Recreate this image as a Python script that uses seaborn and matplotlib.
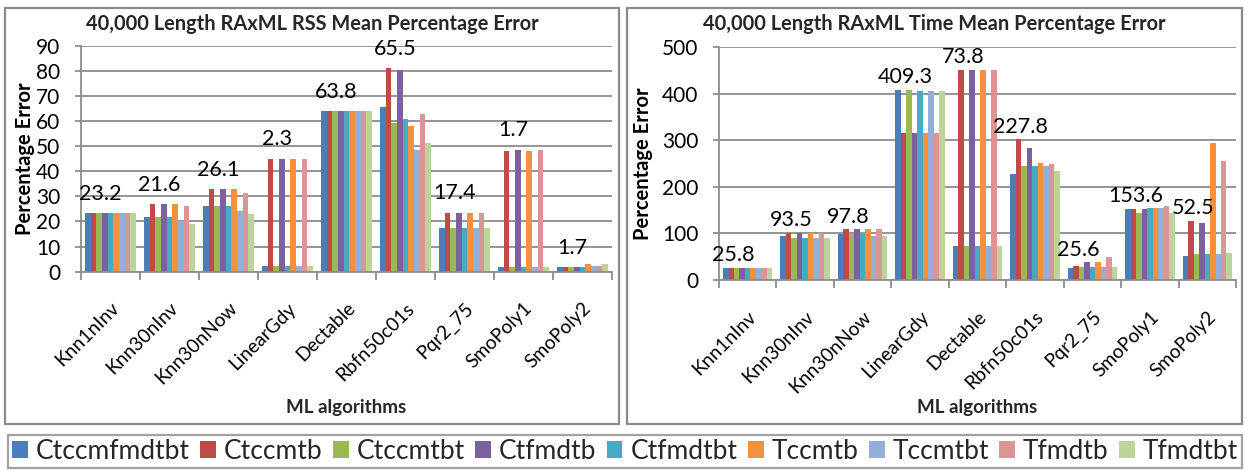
import numpy as np
import pandas as pd
import matplotlib
matplotlib.use("Agg")
import matplotlib.pyplot as plt
from matplotlib.patches import Patch, Rectangle
import seaborn as sns

# ---- data -------------------------------------------------------------
algorithms = ["Knn1nInv", "Knn30nInv", "Knn30nNow", "LinearGdy", "Dectable",
              "Rbfn50c01s", "Pqr2_75", "SmoPoly1", "SmoPoly2"]
methods = ["Ctccmfmdtbt", "Ctccmtb", "Ctccmtbt", "Ctfmdtb", "Ctfmdtbt",
           "Tccmtb", "Tccmtbt", "Tfmdtb", "Tfmdtbt"]
colors = ["#4A7EBB", "#BE4B48", "#98B954", "#7D60A0", "#46AAC5",
          "#F3913F", "#94AED6", "#D99694", "#BCD39A"]

# RSS mean percentage error, one list per method (ordered as `algorithms`)
rss_ctccmfmdtbt = [23.2, 21.6, 26.1, 2.3, 63.8, 65.5, 17.4, 1.7, 1.7]
rss_ctccmtb = [23.2, 26.8, 32.8, 44.8, 63.8, 81.0, 23.5, 48.1, 1.7]
rss_ctccmtbt = [23.2, 21.6, 26.1, 2.3, 63.8, 59.1, 17.4, 1.7, 1.7]
rss_ctfmdtb = [23.2, 26.8, 32.8, 44.8, 63.8, 80.3, 23.5, 48.6, 1.7]
rss_ctfmdtbt = [23.2, 21.6, 26.1, 2.3, 63.8, 60.7, 17.4, 1.7, 1.7]
rss_tccmtb = [23.2, 26.8, 32.8, 44.8, 63.8, 58.0, 23.5, 48.1, 2.9]
rss_tccmtbt = [23.2, 20.2, 24.2, 2.3, 63.8, 48.5, 17.4, 1.7, 2.3]
rss_tfmdtb = [23.2, 26.2, 31.5, 44.8, 63.8, 62.7, 23.5, 48.6, 2.3]
rss_tfmdtbt = [23.2, 18.9, 22.8, 2.3, 63.8, 51.1, 17.4, 1.7, 3.2]

# Time mean percentage error, one list per method
time_ctccmfmdtbt = [25.8, 93.5, 97.8, 409.3, 73.8, 227.8, 25.6, 153.6, 52.5]
time_ctccmtb = [25.8, 101.6, 108.8, 316.4, 451.0, 302.0, 30.8, 151.8, 126.7]
time_ctccmtbt = [25.8, 91.0, 98.0, 409.3, 73.8, 244.8, 27.2, 144.6, 55.0]
time_ctfmdtb = [25.8, 101.6, 108.8, 316.4, 451.0, 284.2, 38.0, 151.8, 123.0]
time_ctfmdtbt = [25.8, 91.0, 98.0, 405.9, 73.8, 244.8, 27.2, 155.3, 55.0]
time_tccmtb = [25.8, 101.6, 108.8, 316.4, 451.0, 252.0, 38.0, 155.3, 293.5]
time_tccmtbt = [25.8, 91.0, 94.5, 405.9, 73.8, 244.8, 27.2, 155.3, 55.0]
time_tfmdtb = [25.8, 101.6, 108.8, 316.4, 451.0, 249.0, 48.7, 159.0, 254.8]
time_tfmdtbt = [25.8, 91.0, 94.5, 406.0, 73.8, 234.0, 27.2, 144.6, 58.7]

rss_series = [rss_ctccmfmdtbt, rss_ctccmtb, rss_ctccmtbt, rss_ctfmdtb, rss_ctfmdtbt,
              rss_tccmtb, rss_tccmtbt, rss_tfmdtb, rss_tfmdtbt]
time_series = [time_ctccmfmdtbt, time_ctccmtb, time_ctccmtbt, time_ctfmdtb, time_ctfmdtbt,
               time_tccmtb, time_tccmtbt, time_tfmdtb, time_tfmdtbt]

# ---- style ------------------------------------------------------------
sns.set_theme(style="white")
plt.rcParams["font.family"] = ["Lato", "DejaVu Sans"]
GRID = "#8C8C8C"

W, H = 1250, 470
fig = plt.figure(figsize=(W / 100, H / 100), dpi=100)


def rect(x0, y0, x1, y1):
    """Pixel box (top-left origin) -> figure fraction rect."""
    return [x0 / W, 1 - y1 / H, (x1 - x0) / W, (y1 - y0) / H]


def long_frame(series):
    return pd.DataFrame({
        "Algorithm": np.tile(algorithms, len(methods)),
        "Method": np.repeat(methods, len(algorithms)),
        "Value": np.concatenate([np.asarray(s, float) for s in series]),
    })


def draw_panel(ax, series, ymax, ystep, label_shift, label_gap):
    df = long_frame(series)
    sns.barplot(data=df, x="Algorithm", y="Value", hue="Method",
                order=algorithms, hue_order=methods, palette=colors,
                width=0.86, saturation=1, linewidth=0, errorbar=None,
                legend=False, ax=ax)
    ax.set_xlim(-0.5, len(algorithms) - 0.5)
    ax.set_ylim(0, ymax)
    ax.set_yticks(np.arange(0, ymax + 1, ystep))
    ax.yaxis.grid(True, color=GRID, lw=1.3)
    ax.set_axisbelow(True)
    for side in ("top", "right"):
        ax.spines[side].set_visible(False)
    for side in ("left", "bottom"):
        ax.spines[side].set_color(GRID)
        ax.spines[side].set_linewidth(1.3)
    ax.set_xticks(np.arange(-0.5, len(algorithms)), minor=True)
    ax.tick_params(axis="x", which="minor", length=6, width=1.3, color=GRID,
                   direction="out", bottom=True)
    ax.tick_params(axis="x", which="major", length=0, pad=20, labelsize=13.8,
                   labelcolor="black")
    ax.tick_params(axis="y", length=4, width=1.3, color=GRID, pad=11,
                   labelsize=15, labelcolor="black", left=True)
    for lbl in ax.get_xticklabels():
        lbl.set_rotation(45)
        lbl.set_ha("right")
        lbl.set_va("top")
        lbl.set_rotation_mode("anchor")
    ax.set_xlabel("")
    ax.set_ylabel("Percentage Error", fontsize=14.5, fontweight="bold",
                  color="black")

    # value of the first method, written above the left part of each group
    first = np.asarray(series[0], float)
    left_part = np.max(np.asarray(series[:4], float), axis=0)
    for i, (v, top) in enumerate(zip(first, left_part)):
        ax.annotate(f"{v:.1f}", xy=(i + label_shift, top),
                    xytext=(0, label_gap), textcoords="offset points",
                    ha="center", va="bottom", fontsize=15.5, color="black")


ax_l = fig.add_axes(rect(81, 45.7, 612, 271.7))
ax_r = fig.add_axes(rect(719, 47.3, 1236, 280))

draw_panel(ax_l, rss_series, 90, 10, -0.17, 7)
draw_panel(ax_r, time_series, 500, 100, -0.25, 2)
ax_l.yaxis.set_label_coords(-0.087, 0.5)
ax_r.yaxis.set_label_coords(-0.128, 0.5)

# panel frames
for x0, x1 in ((5, 619), (627, 1242)):
    fig.patches.append(Rectangle((x0 / W, 1 - 424 / H), (x1 - x0) / W, 416 / H,
                                 transform=fig.transFigure, fill=False,
                                 edgecolor="#8A8A8A", lw=1.6, zorder=0))

# titles and x-axis captions
fig.text(312 / W, 1 - 24 / H, "40,000 Length RAxML RSS Mean Percentage Error",
         ha="center", va="center", fontsize=14.4, fontweight="bold")
fig.text(934 / W, 1 - 24 / H, "40,000 Length RAxML Time Mean Percentage Error",
         ha="center", va="center", fontsize=14.4, fontweight="bold")
fig.text(346.5 / W, 1 - 408 / H, "ML algorithms", ha="center", va="center",
         fontsize=13.5, fontweight="bold")
fig.text(977.5 / W, 1 - 408 / H, "ML algorithms", ha="center", va="center",
         fontsize=13.5, fontweight="bold")

# shared legend along the bottom
handles = [Patch(facecolor=c, edgecolor="none") for c in colors]
leg = fig.legend(handles, methods, loc="lower left",
                 bbox_to_anchor=(8 / W, 2 / H, 1234 / W, 39 / H), mode="expand",
                 ncol=len(methods), fontsize=19, frameon=True, fancybox=False,
                 edgecolor="#8A8A8A", handlelength=0.6, handleheight=0.6,
                 handletextpad=0.3, columnspacing=0.4, borderaxespad=0,
                 borderpad=0.15)
leg.get_frame().set_linewidth(1.6)

fig.savefig("out.png", dpi=100, facecolor="white")
